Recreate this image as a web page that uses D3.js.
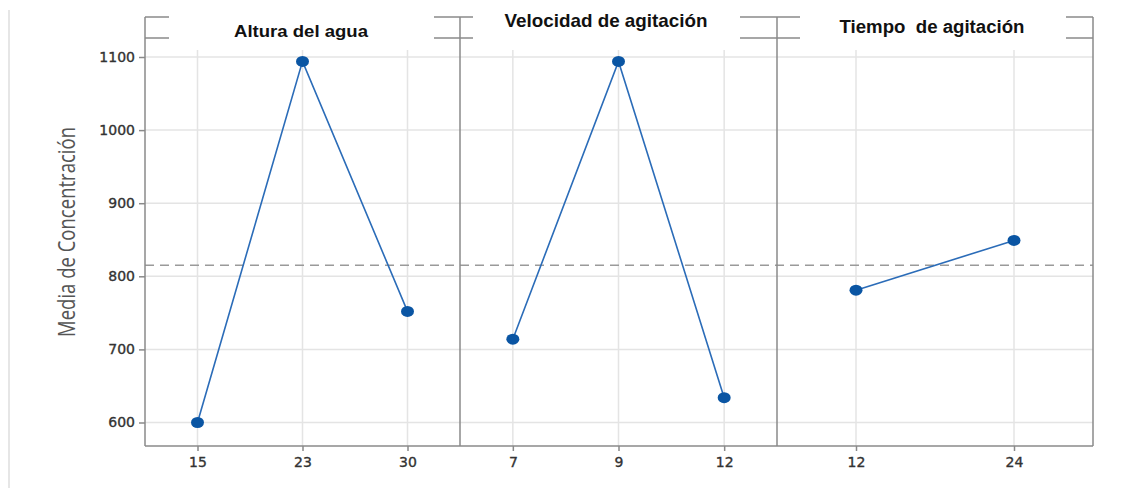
<!DOCTYPE html>
<html>
<head>
<meta charset="utf-8">
<script src="https://cdn.jsdelivr.net/npm/d3@7"></script>
<style>
  html, body { margin: 0; padding: 0; background: #fff; }
  svg { display: block; }
</style>
</head>
<body>
<svg id="chart" width="1138" height="488"></svg>
<script>
// Main effects of each factor on the mean concentration
const factorNames = ["Altura del agua", "Velocidad de agitación", "Tiempo  de agitación"];
const alturaLevels = ["15", "23", "30"];
const alturaMeans = [600, 1094, 752];
const velocidadLevels = ["7", "9", "12"];
const velocidadMeans = [714, 1094, 634];
const tiempoLevels = ["12", "24"];
const tiempoMeans = [781, 849];
const grandMean = 815;
const yTicks = [600, 700, 800, 900, 1000, 1100];
const yTitle = "Media de Concentración";

const panels = [
  { name: factorNames[0], levels: alturaLevels, means: alturaMeans },
  { name: factorNames[1], levels: velocidadLevels, means: velocidadMeans },
  { name: factorNames[2], levels: tiempoLevels, means: tiempoMeans }
];

// layout
const edges = [145, 460, 777, 1093];
const headTop = 17, headBottom = 38, gridTop = 50, plotBottom = 446;
const titleStyle = [
  { cx: 301, base: 37, size: 16.5, len: 134, box: [169, 434] },
  { cx: 606, base: 27, size: 19, len: 203, box: [473, 740] },
  { cx: 932, base: 33, size: 17.5, len: 185, box: [800, 1066] }
];
const frameColor = "#8a8a8a";
const gridColor = "#e4e4e4";

const svg = d3.select("#chart");

// faint outer border on the left
svg.append("line")
  .attr("x1", 9).attr("x2", 9).attr("y1", 10).attr("y2", 488)
  .attr("stroke", "#e6e6e6").attr("stroke-width", 2);

const y = d3.scaleLinear().domain([600, 1100]).range([422.5, 57]);

// horizontal gridlines across all panels
svg.append("g").selectAll("line").data(yTicks).join("line")
  .attr("x1", edges[0]).attr("x2", edges[3])
  .attr("y1", d => y(d)).attr("y2", d => y(d))
  .attr("stroke", gridColor).attr("stroke-width", 1.5);

// per-panel x scales
panels.forEach((p, i) => {
  p.x = d3.scalePoint().domain(p.levels).range([edges[i], edges[i + 1]]).padding(0.5);
});

// vertical gridlines
panels.forEach(p => {
  svg.append("g").selectAll("line").data(p.levels).join("line")
    .attr("x1", d => p.x(d)).attr("x2", d => p.x(d))
    .attr("y1", gridTop).attr("y2", plotBottom)
    .attr("stroke", gridColor).attr("stroke-width", 1.5);
});

// grand mean reference line
svg.append("line")
  .attr("x1", edges[0]).attr("x2", edges[3])
  .attr("y1", y(grandMean)).attr("y2", y(grandMean))
  .attr("stroke", "#9a9a9a").attr("stroke-width", 1.5)
  .attr("stroke-dasharray", "9,6");

// main effect lines and markers
panels.forEach(p => {
  const pts = p.levels.map((l, k) => [p.x(l), y(p.means[k])]);
  svg.append("path")
    .attr("d", d3.line()(pts))
    .attr("fill", "none").attr("stroke", "#2b6cb8").attr("stroke-width", 1.6);
  svg.append("g").selectAll("ellipse").data(pts).join("ellipse")
    .attr("cx", d => d[0]).attr("cy", d => d[1])
    .attr("rx", 6.5).attr("ry", 5.5)
    .attr("fill", "#0a55a3");
});

function styleTickText(sel) {
  sel.attr("font-family", "DejaVu Sans, sans-serif").attr("font-size", 14)
    .attr("fill", "#333").attr("stroke", "#333").attr("stroke-width", 0.35);
}

// y axis
const yAxis = svg.append("g")
  .attr("transform", `translate(${edges[0]},0)`)
  .call(d3.axisLeft(y).tickValues(yTicks).tickFormat(d3.format("d")).tickSize(6).tickPadding(4));
yAxis.select(".domain").remove();
yAxis.selectAll(".tick line").attr("stroke", frameColor).attr("stroke-width", 1.5);
styleTickText(yAxis.selectAll(".tick text"));

// x axes
panels.forEach(p => {
  const g = svg.append("g")
    .attr("transform", `translate(0,${plotBottom})`)
    .call(d3.axisBottom(p.x).tickSize(5).tickPadding(6));
  g.select(".domain").remove();
  g.selectAll(".tick line").attr("stroke", frameColor).attr("stroke-width", 1.5);
  styleTickText(g.selectAll(".tick text"));
});

// frame: left axis, panel dividers, right border, bottom axis
const frame = svg.append("g").attr("stroke", frameColor).attr("stroke-width", 1.5);
edges.forEach(xe => {
  frame.append("line").attr("x1", xe).attr("x2", xe).attr("y1", headTop).attr("y2", plotBottom);
});
frame.append("line").attr("x1", edges[0]).attr("x2", edges[3])
  .attr("y1", plotBottom).attr("y2", plotBottom);

// panel header strips
[headTop, headBottom].forEach(hy => {
  frame.append("line").attr("x1", edges[0]).attr("x2", edges[3])
    .attr("y1", hy).attr("y2", hy);
});

// header titles on white backgrounds
panels.forEach((p, i) => {
  const t = titleStyle[i];
  svg.append("rect")
    .attr("x", t.box[0]).attr("y", headTop - 2)
    .attr("width", t.box[1] - t.box[0]).attr("height", headBottom - headTop + 4)
    .attr("fill", "#fff");
  svg.append("text")
    .attr("x", t.cx).attr("y", t.base)
    .attr("text-anchor", "middle")
    .attr("font-family", "Liberation Sans, Arial, sans-serif")
    .attr("font-weight", "bold")
    .attr("font-size", t.size)
    .attr("textLength", t.len).attr("lengthAdjust", "spacingAndGlyphs")
    .style("white-space", "pre")
    .attr("fill", "#111")
    .text(p.name);
});

// y axis title
svg.append("text")
  .attr("transform", "translate(75,232) rotate(-90)")
  .attr("text-anchor", "middle")
  .attr("font-family", "Open Sans, sans-serif")
  .attr("font-size", 23)
  .attr("textLength", 210).attr("lengthAdjust", "spacingAndGlyphs")
  .attr("fill", "#555")
  .text(yTitle);
</script>
</body>
</html>
